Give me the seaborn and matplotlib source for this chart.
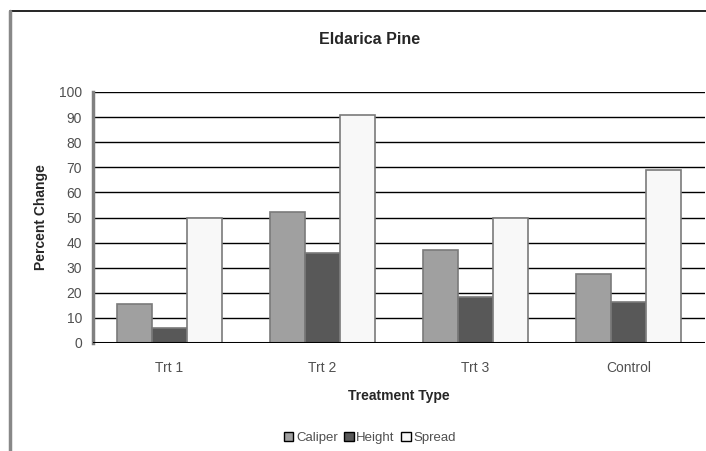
import matplotlib
matplotlib.use("Agg")
import matplotlib.pyplot as plt
import seaborn as sns
import pandas as pd
from matplotlib.lines import Line2D
from matplotlib.patches import Patch

categories = ["Trt 1", "Trt 2", "Trt 3", "Control"]
caliper = [15.5, 52, 37, 27.5]
height = [6, 36, 18.5, 16.5]
spread = [50, 91, 50, 69]
series_names = ["Caliper", "Height", "Spread"]
y_ticks = [0, 10, 20, 30, 40, 50, 60, 70, 80, 90, 100]

rows = []
for name, vals in zip(series_names, [caliper, height, spread]):
    for c, v in zip(categories, vals):
        rows.append({"Treatment": c, "Series": name, "Value": v})
df = pd.DataFrame(rows)

sns.set_style("white")
plt.rcParams['font.family'] = ['Liberation Sans', 'DejaVu Sans']

fig = plt.figure(figsize=(7.06, 4.51), dpi=100)
ax = fig.add_axes([93/706, 1-343/451, (705-93)/706, (343-92)/451])

colors = {"Caliper": "#a0a0a0", "Height": "#585858", "Spread": "#f8f8f8"}
sns.barplot(data=df, x="Treatment", y="Value", hue="Series", order=categories,
            hue_order=series_names, palette=colors, width=0.69, ax=ax,
            edgecolor="#7a7a7a", linewidth=1.2, legend=False, zorder=3)

ax.set_ylim(0, 100)
ax.set_xlim(-0.5, 3.5)
ax.set_yticks(y_ticks)
for y in y_ticks[1:]:
    ax.axhline(y, color="black", lw=1.0, zorder=1)
ax.axhline(0, color="black", lw=2.2, zorder=5)

for s in ["top", "right", "bottom"]:
    ax.spines[s].set_visible(False)
ax.spines["left"].set_color("#808080")
ax.spines["left"].set_linewidth(2.5)

ax.tick_params(axis="y", length=5, width=1, color="black", labelsize=10,
               labelcolor="#505050", pad=3)
ax.tick_params(axis="x", which="major", length=0, labelsize=10,
               labelcolor="#505050", pad=13)
ax.set_xticks([0.5, 1.5, 2.5], minor=True)
ax.tick_params(axis="x", which="minor", length=4, width=1.5, color="#909090")

ax.set_xlabel("Treatment Type", fontsize=10, fontweight="bold", labelpad=10)
ax.set_ylabel("Percent Change", fontsize=10, fontweight="bold", labelpad=8)

fig.text(370/706, 1-40/451, "Eldarica Pine", ha="center", va="center",
         fontsize=11.5, fontweight="bold")

handles = [Patch(facecolor=colors[n], edgecolor="black", label=n) for n in series_names]
fig.legend(handles=handles, loc="center", bbox_to_anchor=(370/706, 1-438/451),
           ncol=3, frameon=False, fontsize=9.5, handlelength=0.7, handleheight=0.7,
           handletextpad=0.2, columnspacing=0.5, labelcolor="#505050")

# chart-area border fragments
fig.add_artist(Line2D([10/706, 1], [1-11/451, 1-11/451], color="black", lw=1.2,
                      transform=fig.transFigure))
fig.add_artist(Line2D([10/706, 10/706], [0, 1-11/451], color="#888888", lw=2.5,
                      transform=fig.transFigure))

fig.savefig("out.png", dpi=100)
